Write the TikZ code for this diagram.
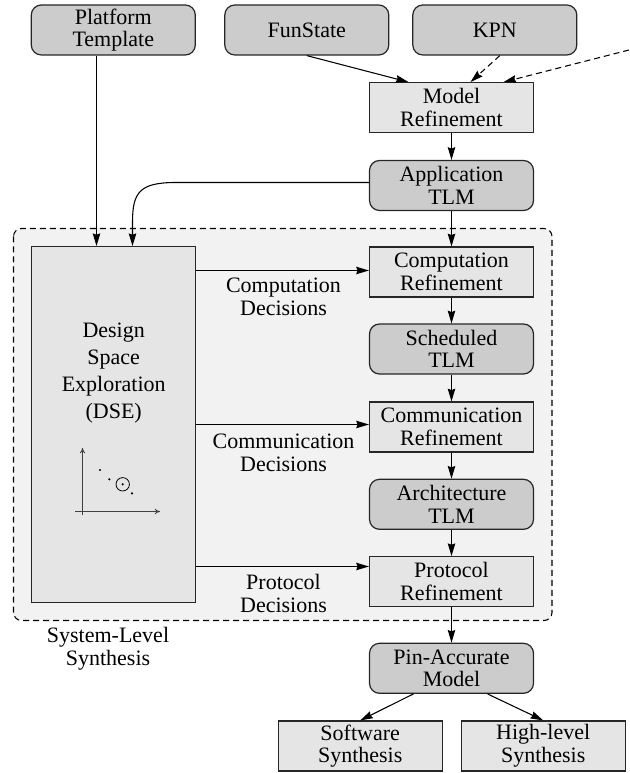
\documentclass[tikz,border=0pt]{standalone}
\usepackage{fontspec}
\setmainfont{Liberation Serif}
\usetikzlibrary{arrows.meta,calc}

\begin{document}
\begin{tikzpicture}[x=0.75pt,y=-0.75pt,
  every node/.style={font=\fontsize{16.5}{17}\selectfont, align=center},
  base/.style={draw=black!85, line width=0.9pt, minimum width=123pt, minimum height=37.5pt, inner sep=0pt},
  model/.style={base, fill=black!20, rounded corners=7.5pt},
  task/.style={base, fill=black!10},
  arr/.style={line width=0.8pt, -{Stealth[length=9.5pt,width=5.6pt,inset=1pt]}},
  dsh/.style={dash pattern=on 4.5pt off 3pt},
  axis/.style={line width=0.7pt, draw=black!75, -{To[length=4pt,width=4pt]}}
]
\useasboundingbox (0,0) rectangle (629,773);

% system-level synthesis region
\draw[dsh, line width=0.8pt, fill=black!5, rounded corners=6pt] (13.5,228.5) rectangle (552,620.5);
\node (sls) at (108,649) {System-Level\\Synthesis};

% inputs
\node[model] (plat) at (113.3,30) {Platform\\Template};
\node[model] (fun)  at (306.8,30) {FunState};
\node[model] (kpn)  at (494.8,30) {KPN};
\coordinate (more) at (629,50);

% refinement flow
\node[task]  (mref)  at (451.5,107.7) {Model\\Refinement};
\node[model] (app)   at (451.5,185.5) {Application\\TLM};
\node[task]  (cref)  at (451.5,272)   {Computation\\Refinement};
\node[model] (sched) at (451.5,349)   {Scheduled\\TLM};
\node[task]  (mmref) at (451.5,427)   {Communication\\Refinement};
\node[model] (arch)  at (451.5,504.3) {Architecture\\TLM};
\node[task]  (pref)  at (451.5,581.7) {Protocol\\Refinement};
\node[model] (pin)   at (451.5,668.3) {Pin-Accurate\\Model};
\node[task]  (sw)    at (360.2,746)   {Software\\Synthesis};
\node[task]  (hls)   at (543.2,746)   {High-level\\Synthesis};

% design space exploration
\node[task, minimum height=266.7pt] (dse) at (113.7,424.5) {};
\node[font=\fontsize{16.5}{20.4}\selectfont] (dsetxt) at (113.7,373) {Design\\Space\\Exploration\\(DSE)};
\coordinate (dsein) at (132.5,0);
\coordinate (platin) at (96.5,0);

% pareto sketch
\draw[axis] (82.5,515) -- (82.5,448);
\draw[axis] (75,511.5) -- (160,511.5);
\fill (100,470) circle (1.2);
\fill (109.3,479.3) circle (1.2);
\fill (122.7,484.3) circle (1.2);
\draw[line width=0.6pt] (122.7,484.3) circle (6.7);
\fill (132,493.3) circle (1.2);

% connectors
\draw[arr] (fun.south) -- ($(mref.north)+(-43,0)$);
\draw[arr, dsh] ($(kpn.south)+(5,0)$) -- ($(mref.north)+(19,0)$);
\draw[arr, dsh] (more) -- ($(mref.north)+(52,0)$);
\draw[arr] (mref) -- (app);
\draw[arr] (app) -- (cref);
\draw[arr] (cref) -- (sched);
\draw[arr] (sched) -- (mmref);
\draw[arr] (mmref) -- (arch);
\draw[arr] (arch) -- (pref);
\draw[arr] (pref) -- (pin);
\draw[arr] ($(pin.south)+(-38,0)$) -- (sw.north);
\draw[arr] ($(pin.south)+(36,0)$) -- (hls.north);

\draw[arr] (plat.south -| platin) -- (dse.north -| platin);
\draw[arr] ($(app.west)+(0,-3)$) -- (176,182.5)
  .. controls (140,182.5) and (132.5,192) .. (132.5,222) -- (dse.north -| dsein);

% decisions handed from DSE to the refinement steps
\draw[arr] (dse.east |- 0,270.5) -- ($(cref.west)+(0,-1.5)$);
\draw[arr] (dse.east |- 0,424.5) -- ($(mmref.west)+(0,-2.5)$);
\draw[arr] (dse.east |- 0,566.5) -- ($(pref.west)+(0,-15.2)$);
\node (cdec) at (283.5,297)   {Computation\\Decisions};
\node (mdec) at (283.5,452.5) {Communication\\Decisions};
\node (pdec) at (283.5,593.5) {Protocol\\Decisions};
\end{tikzpicture}
\end{document}
